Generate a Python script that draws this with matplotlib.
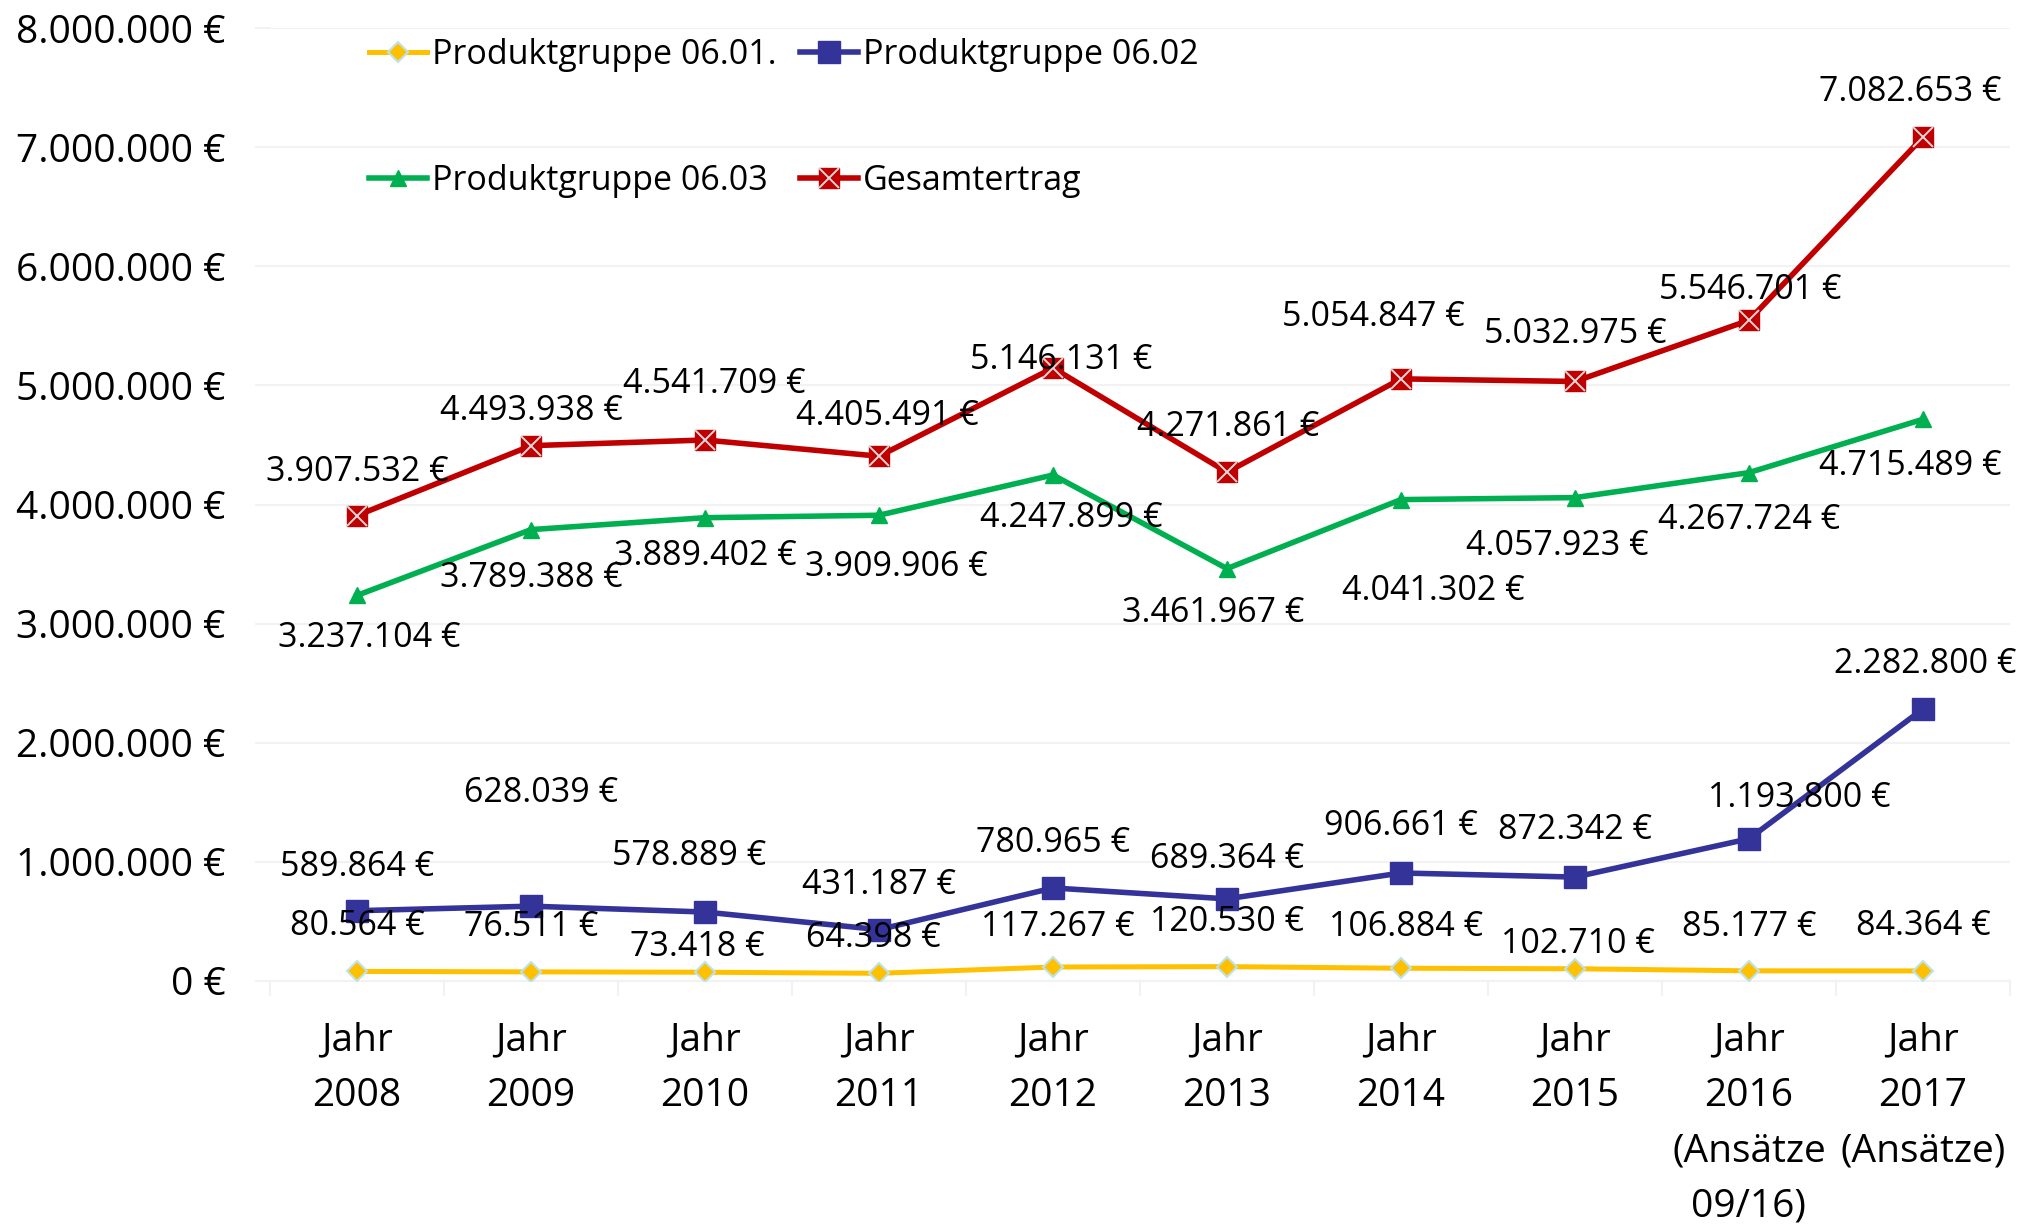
import numpy as np
import matplotlib
matplotlib.use("Agg")
import matplotlib.pyplot as plt
from matplotlib.lines import Line2D
from matplotlib.legend_handler import HandlerTuple
from matplotlib.ticker import FuncFormatter, FixedLocator

plt.rcParams["font.family"] = ["Open Sans", "DejaVu Sans"]

# -----------------------------
# Data
# -----------------------------
years = ["Jahr\n2008", "Jahr\n2009", "Jahr\n2010", "Jahr\n2011", "Jahr\n2012",
         "Jahr\n2013", "Jahr\n2014", "Jahr\n2015",
         "Jahr\n2016\n(Ansätze\n09/16)", "Jahr\n2017\n(Ansätze)"]

pg_0601 = [80564, 76511, 73418, 64398, 117267, 120530, 106884, 102710, 85177, 84364]
pg_0602 = [589864, 628039, 578889, 431187, 780965, 689364, 906661, 872342, 1193800, 2282800]
pg_0603 = [3237104, 3789388, 3889402, 3909906, 4247899, 3461967, 4041302, 4057923, 4267724, 4715489]
gesamt = [3907532, 4493938, 4541709, 4405491, 5146131, 4271861, 5054847, 5032975, 5546701, 7082653]

# label offsets in pixels (dx, dy)
off_0601 = [(0, 45), (0, 45), (-8, 25), (-6, 35), (5, 40), (0, 45), (5, 41), (3, 25), (0, 44), (0, 45)]
off_0602 = [(0, 44), (10, 113), (-16, 56), (0, 45), (0, 45), (0, 40), (0, 47), (0, 47), (50, 41), (2, 45)]
off_0603 = [(12, -43), (0, -48), (0, -38), (17, -52), (18, -43), (-14, -44), (32, -91), (-18, -48), (0, -47), (-13, -47)]
off_gesamt = [(0, 44), (0, 35), (9, 56), (8, 40), (8, 8), (1, 45), (-28, 62), (0, 47), (1, 30), (-13, 45)]


def euro(v, pos=None):
    return f"{v:,.0f}".replace(",", ".") + " €"


fig = plt.figure(figsize=(20.29, 12.25), dpi=100)
ax = fig.add_axes([0.1331, 0.1992, 0.8575, 0.7779])

x = np.arange(len(years))
grid_c = "#F2F2F2"

yellow, blue, green, red = "#FFC000", "#333399", "#00B050", "#C00000"

ax.plot(x, pg_0601, color=yellow, lw=3.6, marker="D", ms=10,
        mfc=yellow, mec="#BDE3E8", mew=1.5, zorder=3)
ax.plot(x, pg_0602, color=blue, lw=4, marker="s", ms=15.5,
        mfc=blue, mec=blue, zorder=3)
ax.plot(x, pg_0603, color=green, lw=4, marker="^", ms=11,
        mfc=green, mec=green, zorder=3)
ax.plot(x, gesamt, color=red, lw=4, marker="s", ms=15,
        mfc=red, mec=red, zorder=3)
ax.plot(x, gesamt, ls="none", marker="x", ms=14, mec="#D9D9D9", mew=1.4, zorder=4)

for series, offs in [(pg_0601, off_0601), (pg_0602, off_0602),
                     (pg_0603, off_0603), (gesamt, off_gesamt)]:
    for xi, v, (dx, dy) in zip(x, series, offs):
        ax.annotate(euro(v), (xi, v), xytext=(dx, dy), textcoords="offset pixels",
                    ha="center", va="center", fontsize=24.5, color="black", zorder=5)

ax.set_xlim(-0.5, len(years) - 0.5)
ax.set_ylim(0, 8000000)
ax.set_yticks(np.arange(0, 8000001, 1000000))
ax.yaxis.set_major_formatter(FuncFormatter(euro))
ax.grid(axis="y", color=grid_c, lw=1.5)
ax.set_axisbelow(True)

ax.set_xticks(x)
ax.set_xticklabels(years, fontsize=28, linespacing=1.6)
ax.xaxis.set_minor_locator(FixedLocator(np.arange(-0.5, len(years), 1.0)))
ax.tick_params(axis="x", which="major", length=0, pad=29)
ax.tick_params(axis="x", which="minor", length=11, color=grid_c, width=1.5)
ax.tick_params(axis="y", length=11, color=grid_c, width=1.5, labelsize=28, pad=21)

for s in ["top", "right", "left"]:
    ax.spines[s].set_visible(False)
ax.spines["bottom"].set_color(grid_c)
ax.spines["bottom"].set_linewidth(1.5)

# legend
h1 = Line2D([], [], color=yellow, lw=3.6, marker="D", ms=10, mfc=yellow, mec="#BDE3E8", mew=1.5)
h2 = Line2D([], [], color=blue, lw=4, marker="s", ms=15.5, mfc=blue, mec=blue)
h3 = Line2D([], [], color=green, lw=4, marker="^", ms=11, mfc=green, mec=green)
h4a = Line2D([], [], color=red, lw=4, marker="s", ms=15, mfc=red, mec=red)
h4b = Line2D([], [], ls="none", marker="x", ms=14, mec="#D9D9D9", mew=1.4)

fig.legend([h1, h3, h2, (h4a, h4b)],
           ["Produktgruppe 06.01.", "Produktgruppe 06.03", "Produktgruppe 06.02", "Gesamtertrag"],
           handler_map={tuple: HandlerTuple(ndivide=1)},
           ncol=2, loc="upper left", bbox_to_anchor=(369 / 2029, 1 - 38 / 1225),
           frameon=False, fontsize=24.5, handlelength=1.7, handletextpad=0.15,
           columnspacing=0.7, labelspacing=2.7, borderpad=0, borderaxespad=0)

fig.savefig("out.png", dpi=100)
